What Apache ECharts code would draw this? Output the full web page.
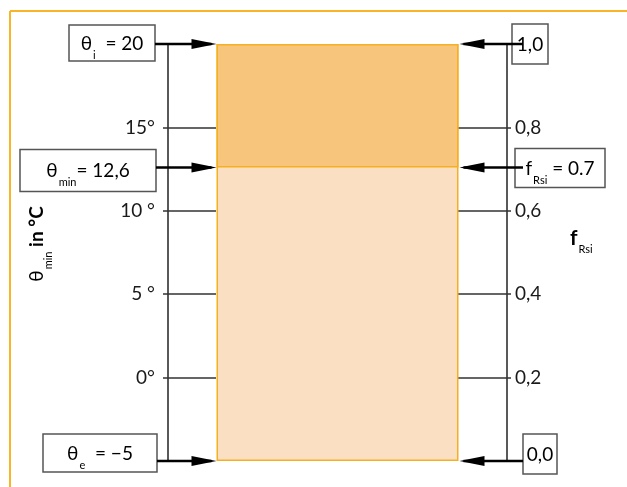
<!DOCTYPE html>
<html>
<head>
<meta charset="utf-8">
<script src="https://cdn.jsdelivr.net/npm/echarts@6/dist/echarts.min.js"></script>
<style>html,body{margin:0;padding:0;background:#fff}#chart{width:627px;height:487px}</style>
</head>
<body>
<div id="chart"></div>
<script>
var FONT = "Lato, 'Open Sans', sans-serif";

// Temperaturen
var thetaI = 20;
var thetaMin = 12.6;
var thetaE = -5;
// Temperaturfaktor
var fRsi = (thetaMin - thetaE) / (thetaI - thetaE);

var thetaTicks = [0, 5, 10, 15];
var thetaTickLabels = ['0°', '5 °', '10 °', '15°'];
var fTicks = [0.2, 0.4, 0.6, 0.8];
var fTickLabels = ['0,2', '0,4', '0,6', '0,8'];

var leftMarks = [thetaI, thetaMin, thetaE];
var leftTexts = ['{t|θ}{s|i}{t|  = 20}', '{t|θ}{s|min}{t|= 12,6}', '{t|θ}{s|e}{t|  = −5}'];
var rightMarks = [1, fRsi, 0];
var rightTexts = ['{t|1,0}', '{t|f}{s|Rsi}{t| = 0.7}', '{t|0,0}'];

// Kästchen: x1, x2, oben (relativ zum Pfeil), Höhe
var leftBoxes = [[69, 155, -19, 36], [20, 156, -18, 42], [43, 157, -27, 38]];
var rightBoxes = [[512, 548, -20, 40], [515, 605, -19, 39], [523, 557, -27, 40]];
var BAR_W = 242;

var rich = {
    t: {fontFamily: FONT, fontSize: 19, lineHeight: 20, verticalAlign: 'top', color: '#1a1a1a'},
    s: {fontFamily: FONT, fontSize: 11, lineHeight: 10, padding: [16, 0, 0, 1], verticalAlign: 'top', color: '#1a1a1a'}
};

function arrowItem(side, boxes, texts) {
    return function (params, api) {
        var i = params.dataIndex;
        var pt = api.coord([0, api.value(1)]);
        var y = pt[1];
        var b = boxes[i];
        var edge, start, head;
        if (side === 'left') {
            edge = pt[0] - BAR_W / 2;
            start = b[1];
            head = [[edge, y], [edge - 25, y - 5], [edge - 25, y + 5]];
        } else {
            edge = pt[0] + BAR_W / 2;
            start = 523;
            head = [[edge + 1, y], [edge + 26, y - 5], [edge + 26, y + 5]];
        }
        var cy = y + b[2] + b[3] / 2;
        return {
            type: 'group',
            children: [
                {type: 'rect', shape: {x: b[0], y: y + b[2], width: b[1] - b[0], height: b[3]},
                    style: {fill: '#fff', stroke: '#555', lineWidth: 1.5}},
                {type: 'line', shape: {x1: start, y1: y, x2: edge + (side === 'left' ? -5 : 5), y2: y},
                    style: {stroke: '#000', lineWidth: 2.5}},
                {type: 'polygon', shape: {points: head}, style: {fill: '#000'}},
                {type: 'text', x: (b[0] + b[1]) / 2, y: cy - 9,
                    style: {text: texts[i], rich: rich, align: 'center', verticalAlign: 'top'}}
            ]
        };
    };
}

var myChart = echarts.init(document.getElementById('chart'));

var option = {
    animation: false,
    grid: {left: 168, right: 120, top: 44, bottom: 26},
    xAxis: {type: 'category', data: [''], show: false},
    yAxis: [
        {
            type: 'value', min: thetaE, max: thetaI, interval: 5, position: 'left',
            axisLine: {show: true, lineStyle: {color: '#222', width: 1.5}},
            axisTick: {show: true, customValues: thetaTicks, length: 5, lineStyle: {color: '#333', width: 1.5}},
            axisLabel: {
                customValues: thetaTicks, margin: 13, padding: [6, 0, 0, 0],
                fontFamily: FONT, fontSize: 19, color: '#1a1a1a',
                formatter: function (v) { return thetaTickLabels[thetaTicks.indexOf(v)]; }
            },
            splitLine: {show: false}
        },
        {
            type: 'value', min: 0, max: 1, interval: 0.2, position: 'right',
            axisLine: {show: true, lineStyle: {color: '#222', width: 1.5}},
            axisTick: {show: true, customValues: fTicks, length: 4, lineStyle: {color: '#333', width: 1.5}},
            axisLabel: {
                customValues: fTicks, margin: 8, padding: [6, 0, 0, 0],
                fontFamily: FONT, fontSize: 19, color: '#1a1a1a',
                formatter: function (v) { return fTickLabels[fTicks.indexOf(v)]; }
            },
            splitLine: {show: false}
        },
        {
            type: 'value', min: thetaE, max: thetaI, position: 'left',
            axisLine: {show: false},
            axisTick: {show: true, inside: true, customValues: thetaTicks, length: 48, lineStyle: {color: '#333', width: 1.5}},
            axisLabel: {show: false},
            splitLine: {show: false}
        },
        {
            type: 'value', min: 0, max: 1, position: 'right',
            axisLine: {show: false},
            axisTick: {show: true, inside: true, customValues: fTicks, length: 50, lineStyle: {color: '#333', width: 1.5}},
            axisLabel: {show: false},
            splitLine: {show: false}
        }
    ],
    series: [
        {
            // ganzer Balken hell
            type: 'bar', yAxisIndex: 1, barWidth: BAR_W, barGap: '-100%',
            data: [1],
            itemStyle: {color: '#FBDFC3', borderColor: '#F5B021', borderWidth: 1.5}
        },
        {
            type: 'bar', stack: 'f', yAxisIndex: 1, barWidth: BAR_W, barGap: '-100%',
            data: [fRsi],
            itemStyle: {color: 'transparent'}
        },
        {
            type: 'bar', stack: 'f', yAxisIndex: 1, barWidth: BAR_W, barGap: '-100%',
            data: [1 - fRsi],
            itemStyle: {color: '#F8C57C', borderColor: '#F5B021', borderWidth: 1.5}
        },
        {
            type: 'custom', yAxisIndex: 0, z: 5,
            renderItem: arrowItem('left', leftBoxes, leftTexts),
            data: leftMarks.map(function (v) { return [0, v]; })
        },
        {
            type: 'custom', yAxisIndex: 1, z: 5,
            renderItem: arrowItem('right', rightBoxes, rightTexts),
            data: rightMarks.map(function (v) { return [0, v]; })
        }
    ],
    graphic: [
        {type: 'line', shape: {x1: 10, y1: 11, x2: 10, y2: 487}, style: {stroke: '#F8B526', lineWidth: 2}},
        {type: 'line', shape: {x1: 10, y1: 11, x2: 627, y2: 11}, style: {stroke: '#F8B526', lineWidth: 2}},
        {
            type: 'text', x: 37, y: 244, rotation: Math.PI / 2,
            style: {
                text: '{t|θ}{s|min}{b| in °C}', align: 'center', verticalAlign: 'middle',
                rich: {
                    t: {fontFamily: FONT, fontSize: 19, lineHeight: 20, verticalAlign: 'top', color: '#1a1a1a'},
                    s: {fontFamily: FONT, fontSize: 11, lineHeight: 10, padding: [16, 0, 0, 1], verticalAlign: 'top', color: '#1a1a1a'},
                    b: {fontFamily: FONT, fontSize: 19, fontWeight: 'bold', lineHeight: 20, verticalAlign: 'top', color: '#1a1a1a'}
                }
            }
        },
        {
            type: 'text', x: 570, y: 228,
            style: {
                text: '{b|f}{s|Rsi}', align: 'left', verticalAlign: 'top',
                rich: {
                    b: {fontFamily: FONT, fontSize: 21, fontWeight: 'bold', lineHeight: 20, verticalAlign: 'top', color: '#1a1a1a'},
                    s: {fontFamily: FONT, fontSize: 11, lineHeight: 10, padding: [16, 0, 0, 1], verticalAlign: 'top', color: '#1a1a1a'}
                }
            }
        }
    ]
};
myChart.setOption(option);
</script>
</body>
</html>
